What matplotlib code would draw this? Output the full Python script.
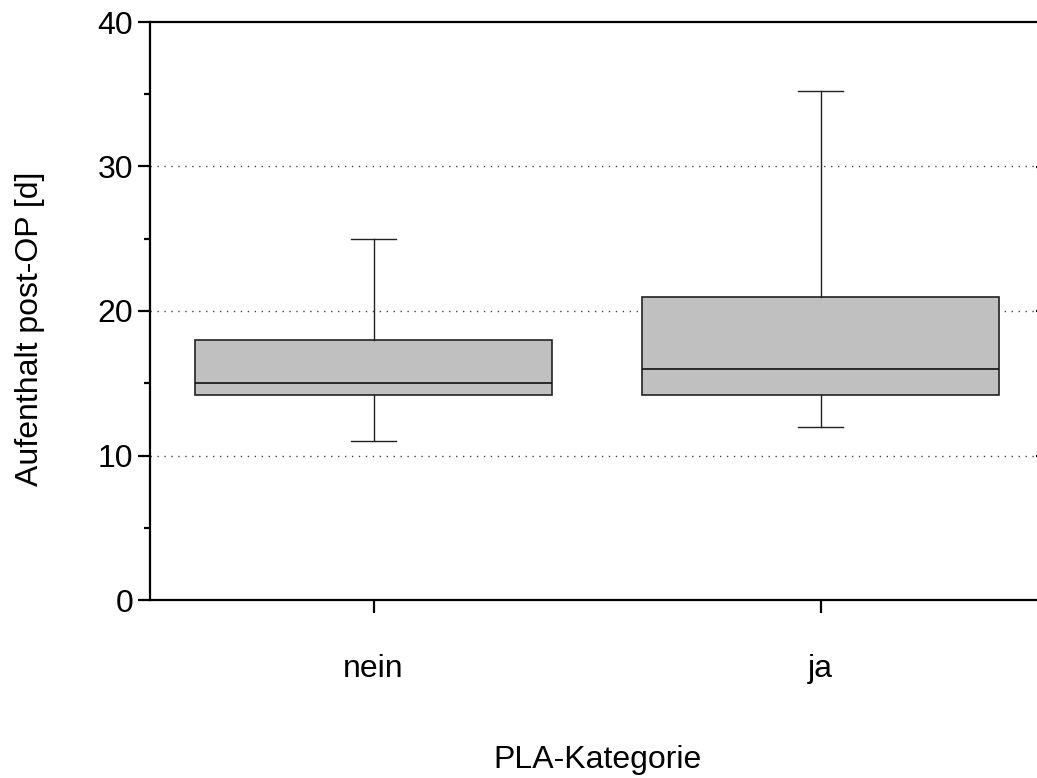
import numpy as np
import matplotlib.pyplot as plt
from matplotlib.ticker import MultipleLocator

plt.rcParams['font.family'] = ['Liberation Sans', 'DejaVu Sans']

# Daten
kategorien = ['nein', 'ja']
q1 = [14.2, 14.2]
median = [15.0, 16.0]
q3 = [18.0, 21.0]
whisker_lo = [11.0, 12.0]
whisker_hi = [25.0, 35.2]

stats = []
for i, k in enumerate(kategorien):
    stats.append(dict(label=k, q1=q1[i], med=median[i], q3=q3[i],
                      whislo=whisker_lo[i], whishi=whisker_hi[i], fliers=[]))

fig = plt.figure(figsize=(10.37, 7.78), dpi=100)
ax = fig.add_axes([150/1037, 1 - 600/778, (1044-150)/1037, (600-22)/778])

ax.bxp(stats, positions=[1, 2], widths=0.8, showfliers=False, patch_artist=True,
       boxprops=dict(facecolor='#c0c0c0', edgecolor='#222222', linewidth=1.2),
       medianprops=dict(color='#111111', linewidth=1.2),
       whiskerprops=dict(color='#222222', linewidth=1.0),
       capprops=dict(color='#222222', linewidth=1.0),
       capwidths=0.1, zorder=3)

ax.set_xlim(0.5, 2.5)
ax.set_ylim(0, 40)
ax.yaxis.set_major_locator(MultipleLocator(10))
ax.yaxis.set_minor_locator(MultipleLocator(5))
for y in [10, 20, 30]:
    ax.axhline(y, color='#444444', linestyle=(0, (1, 4)), linewidth=1.0, zorder=1)

for s in ['left', 'top', 'bottom']:
    ax.spines[s].set_linewidth(1.6)
ax.spines['right'].set_visible(False)

fs = 23
ax.tick_params(axis='y', which='major', direction='out', length=9, width=1.6, labelsize=fs, pad=3)
ax.tick_params(axis='y', which='minor', direction='out', length=4.5, width=1.6)
ax.tick_params(axis='x', direction='out', length=9, width=1.6, labelsize=fs, pad=30)
ax.set_xticks([1, 2])
ax.set_xticklabels(kategorien)

# rechte Markierungen an den Gitterlinien
ax2 = ax.twinx()
ax2.set_ylim(0, 40)
ax2.set_yticks([10, 20, 30])
ax2.tick_params(axis='y', direction='in', length=6, width=1.6, labelright=False)
for s in ax2.spines.values():
    s.set_visible(False)

ax.set_xlabel('PLA-Kategorie', fontsize=fs, labelpad=44)
ax.set_ylabel('Aufenthalt post-OP [d]', fontsize=fs, labelpad=38, y=0.47)

fig.savefig('out.png', dpi=100)
